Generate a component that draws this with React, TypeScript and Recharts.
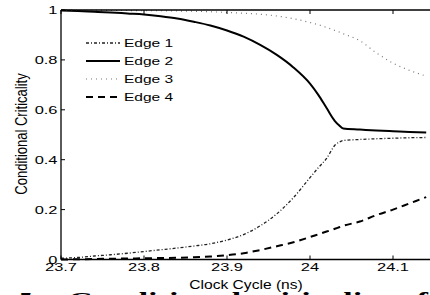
import React from "react";
import { LineChart, Line, XAxis, YAxis, Legend } from "recharts";

// clock cycle (ns) sample points
const clockCycle = [
  23.7, 23.72, 23.74, 23.76, 23.78, 23.8, 23.82, 23.84, 23.86, 23.88, 23.9, 23.92, 23.94,
  23.96, 23.98, 24.0, 24.01, 24.02, 24.03, 24.035, 24.04, 24.06, 24.08, 24.1, 24.12, 24.14,
];

// conditional criticality per edge
const edge1 = [
  0.005, 0.008, 0.014, 0.019, 0.025, 0.032, 0.039, 0.046, 0.054, 0.063, 0.078, 0.1, 0.135,
  0.183, 0.248, 0.328, 0.368, 0.405, 0.458, 0.47, 0.477, 0.481, 0.484, 0.486, 0.488, 0.489,
];
const edge2 = [
  0.998, 0.996, 0.993, 0.99, 0.986, 0.982, 0.975, 0.966, 0.953, 0.938, 0.918, 0.893, 0.86,
  0.82, 0.77, 0.705, 0.66, 0.607, 0.555, 0.538, 0.525, 0.521, 0.517, 0.514, 0.511, 0.509,
];
const edge3 = [
  1.0, 0.999, 0.999, 0.998, 0.998, 0.997, 0.997, 0.996, 0.995, 0.993, 0.99, 0.987, 0.983,
  0.976, 0.965, 0.95, 0.941, 0.93, 0.918, 0.912, 0.905, 0.877, 0.828, 0.787, 0.758, 0.735,
];
const edge4 = [
  0.0, 0.001, 0.002, 0.003, 0.004, 0.005, 0.006, 0.007, 0.009, 0.012, 0.017, 0.025, 0.038,
  0.053, 0.069, 0.09, 0.101, 0.112, 0.123, 0.129, 0.135, 0.152, 0.178, 0.2, 0.225, 0.25,
];

const seriesNames = ["Edge 1", "Edge 2", "Edge 3", "Edge 4"];
const xTicks = [23.7, 23.8, 23.9, 24, 24.1];
const yTicks = [0, 0.2, 0.4, 0.6, 0.8, 1];

const data = clockCycle.map((x, i) => ({
  x,
  e1: edge1[i],
  e2: edge2[i],
  e3: edge3[i],
  e4: edge4[i],
}));

const lineStyles = [
  { key: "e1", stroke: "#222", width: 1.3, dash: "3 2 1 2" },
  { key: "e2", stroke: "#000", width: 2, dash: undefined },
  { key: "e3", stroke: "#777", width: 1.2, dash: "1 4" },
  { key: "e4", stroke: "#000", width: 2, dash: "7 5" },
];

const FONT = '"Liberation Sans", Arial, Helvetica, sans-serif';

// the original figure is stretched sideways, so text gets an x-scale
function StretchText({ x, y, sx, size, anchor = "middle", rotate, weight, family = FONT, children }: any) {
  return (
    <text
      transform={`translate(${x},${y}) scale(${sx},1)${rotate ? ` rotate(${rotate})` : ""}`}
      textAnchor={anchor}
      fontSize={size}
      fontFamily={family}
      fontWeight={weight}
      fill="#000"
    >
      {children}
    </text>
  );
}

const fmt = (v: number) => String(Math.round(v * 10) / 10);

function BottomTick({ x, y, payload }: any) {
  return (
    <g>
      <line x1={x} x2={x} y1={y} y2={y - 4} stroke="#000" strokeWidth={1} />
      <StretchText x={x} y={y + 11.5} sx={1.43} size={11.5}>
        {fmt(payload.value)}
      </StretchText>
    </g>
  );
}

function TopTick({ x, y }: any) {
  return <line x1={x} x2={x} y1={y} y2={y + 4} stroke="#000" strokeWidth={1} />;
}

function LeftTick({ x, y, payload }: any) {
  return (
    <g>
      <line x1={x} x2={x + 4} y1={y} y2={y} stroke="#000" strokeWidth={1} />
      <StretchText x={x - 3.5} y={y + 4} sx={1.43} size={11.5} anchor="end">
        {fmt(payload.value)}
      </StretchText>
    </g>
  );
}

function renderLegend() {
  return (
    <svg width={110} height={80}>
      {seriesNames.map((name, i) => {
        const s = lineStyles[i];
        const cy = 13 + i * 18;
        return (
          <g key={name}>
            <line
              x1={6}
              x2={40}
              y1={cy}
              y2={cy}
              stroke={s.stroke}
              strokeWidth={s.width}
              strokeDasharray={s.dash}
            />
            <StretchText x={44} y={cy + 4} sx={1.35} size={11.5} anchor="start">
              {name}
            </StretchText>
          </g>
        );
      })}
    </svg>
  );
}

export default function App() {
  return (
    <div
      style={{
        position: "absolute",
        left: 0,
        top: 0,
        width: 430,
        height: 295,
        overflow: "hidden",
        background: "#fff",
      }}
    >
      <LineChart
        width={440}
        height={295}
        data={data}
        margin={{ top: 9, right: 5.5, bottom: 34.5, left: 60 }}
      >
        <XAxis
          dataKey="x"
          type="number"
          domain={[23.7, 24.15]}
          ticks={xTicks}
          allowDataOverflow
          height={1}
          tickSize={0}
          tickMargin={0}
          tickLine={false}
          tick={<BottomTick />}
          axisLine={{ stroke: "#000", strokeWidth: 1.3 }}
          label={{
            content: () => (
              <StretchText x={246} y={289} sx={1.25} size={12.5}>
                Clock Cycle (ns)
              </StretchText>
            ),
          }}
        />
        <XAxis
          xAxisId="top"
          dataKey="x"
          type="number"
          orientation="top"
          domain={[23.7, 24.15]}
          ticks={xTicks}
          allowDataOverflow
          height={1}
          tickSize={0}
          tickMargin={0}
          tickLine={false}
          tick={<TopTick />}
          axisLine={{ stroke: "#000", strokeWidth: 1.3 }}
        />
        <YAxis
          type="number"
          domain={[0, 1]}
          ticks={yTicks}
          width={1}
          tickSize={0}
          tickMargin={0}
          tickLine={false}
          tick={<LeftTick />}
          axisLine={{ stroke: "#000", strokeWidth: 1.3 }}
          label={{
            content: () => (
              <StretchText x={27} y={134} sx={1.3} size={13} rotate={-90}>
                Conditional Criticality
              </StretchText>
            ),
          }}
        />
        <Legend
          layout="vertical"
          align="center"
          verticalAlign="middle"
          content={renderLegend}
          wrapperStyle={{ left: 80, top: 30, width: 110, height: 80 }}
        />
        {lineStyles.map((s, i) => (
          <Line
            key={s.key}
            name={seriesNames[i]}
            dataKey={s.key}
            type="monotone"
            stroke={s.stroke}
            strokeWidth={s.width}
            strokeDasharray={s.dash}
            dot={false}
            activeDot={false}
            isAnimationActive={false}
          />
        ))}
      </LineChart>
      <svg
        width={430}
        height={295}
        style={{ position: "absolute", left: 0, top: 0, pointerEvents: "none" }}
      >
        <text x={20} y={306.5} fontSize={22} fontWeight="bold" fontFamily='"Liberation Serif", serif'>
          7.
        </text>
        <text
          x={68}
          y={306.5}
          fontSize={22}
          fontWeight="bold"
          fontFamily='"Liberation Serif", serif'
          textLength={360}
          lengthAdjust="spacingAndGlyphs"
        >
          Conditional criticality of
        </text>
      </svg>
    </div>
  );
}
